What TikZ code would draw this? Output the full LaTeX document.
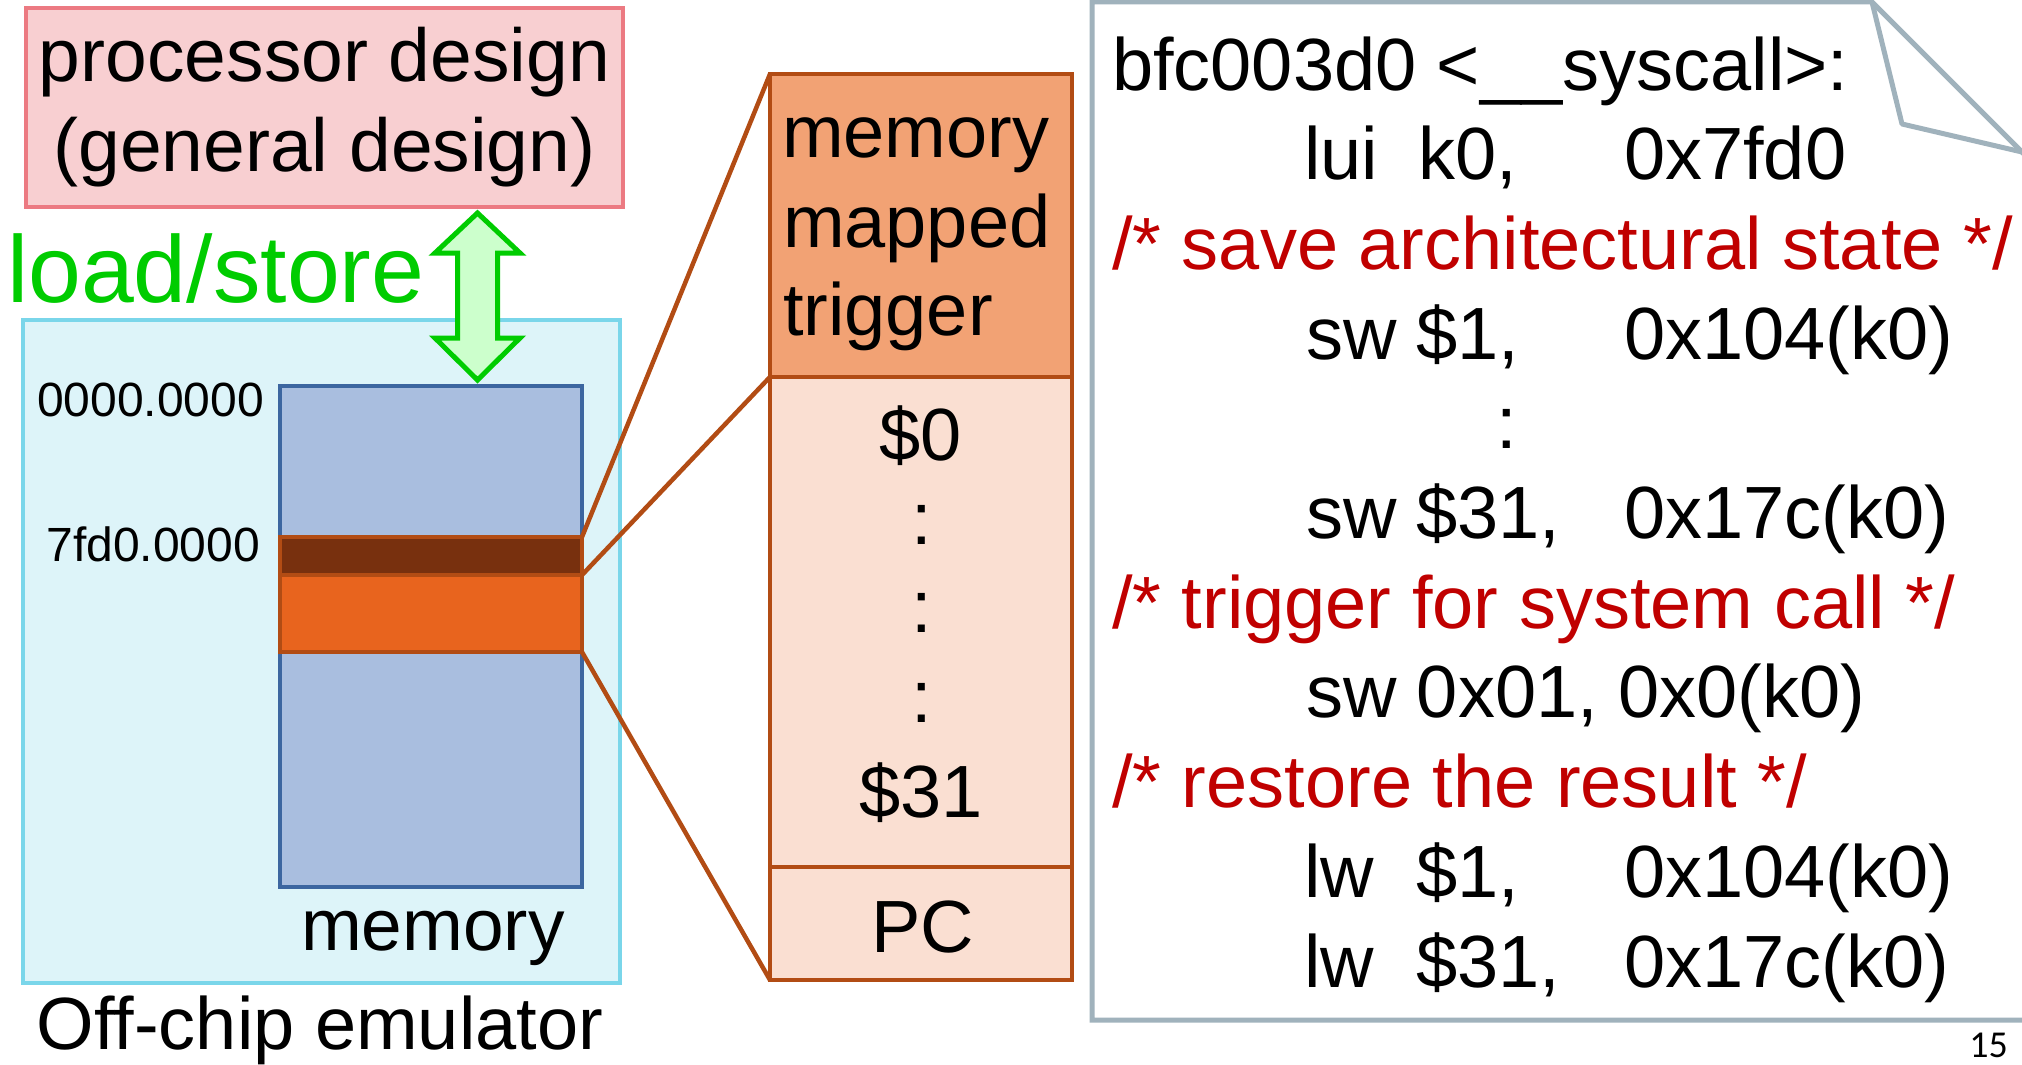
\documentclass[tikz,border=0pt]{standalone}
\usepackage{fontspec}
\setmainfont{Liberation Sans}
\newfontfamily\pagenofont{Carlito}
\usetikzlibrary{calc}

\definecolor{procfill}{RGB}{248,207,209}
\definecolor{procdraw}{RGB}{236,122,130}
\definecolor{emufill}{RGB}{221,244,249}
\definecolor{emudraw}{RGB}{122,214,234}
\definecolor{memfill}{RGB}{169,190,223}
\definecolor{memdraw}{RGB}{60,102,160}
\definecolor{trigband}{RGB}{120,48,14}
\definecolor{regband}{RGB}{232,100,30}
\definecolor{rust}{RGB}{178,76,20}
\definecolor{trigfill}{RGB}{242,162,116}
\definecolor{regfill}{RGB}{250,223,210}
\definecolor{notedraw}{RGB}{160,178,188}
\definecolor{lsgreen}{RGB}{0,204,0}
\definecolor{lsfill}{RGB}{204,255,204}
\definecolor{cmt}{RGB}{192,0,0}

\begin{document}
\begin{tikzpicture}[x=1pt,y=-1pt,
  blk/.style={rectangle, inner sep=0pt, outer sep=0pt, anchor=north west},
  big/.style={font=\fontsize{74}{89}\selectfont, inner sep=0pt, outer sep=0pt},
  small/.style={font=\fontsize{48}{58}\selectfont, inner sep=0pt, outer sep=0pt},
  code/.style={big, anchor=base west},
  comment/.style={code, text=cmt},
  reg/.style={big, anchor=base},
  link/.style={draw=rust, line width=4.5pt},
]
\useasboundingbox (0,0) rectangle (2022,1065);

% ---------- processor design ----------
\node[blk, fill=procfill, draw=procdraw, line width=4.5pt,
      minimum width=597pt, minimum height=199pt,
      font=\fontsize{75}{90}\selectfont, align=center]
  (proc) at (26,8) {processor design\\(general design)};

% ---------- off-chip emulator ----------
\node[blk, fill=emufill, draw=emudraw, line width=4.5pt,
      minimum width=597pt, minimum height=663pt] (emu) at (23,320) {};
\node[blk, fill=memfill, draw=memdraw, line width=4.5pt,
      minimum width=302pt, minimum height=501pt] (mem) at (280,386) {};
\node[blk, fill=trigband, draw=rust, line width=4pt,
      minimum width=302pt, minimum height=38pt] (tband) at (280,537) {};
\node[blk, fill=regband, draw=rust, line width=4pt,
      minimum width=302pt, minimum height=77pt] (rband) at (280,575) {};

\node[small, anchor=base east] (addr0) at (264,416) {0000.0000};
\node[small, anchor=base east] (addr1) at (260,561) {7fd0.0000};
\node[font=\fontsize{73}{88}\selectfont, inner sep=0pt, anchor=base] (memlbl) at (433,950) {memory};
\node[font=\fontsize{74}{89}\selectfont, inner sep=0pt, anchor=base] (emulbl) at (320,1049) {Off-chip emulator};

% ---------- load/store ----------
\node[font=\fontsize{95}{114}\selectfont, text=lsgreen, inner sep=0pt, anchor=base west]
  (lslbl) at (7,302) {load/store};
\coordinate (lsTop) at (477.5,213);
\coordinate (lsBot) at (477.5,380);
\draw[draw=lsgreen, fill=lsfill, line width=5pt, line join=miter]
  (lsTop) -- ++(42.5,40) -- ++(-22.5,0) -- ($(lsBot)+(20,-42)$)
  -- ++(22.5,0) -- (lsBot) -- ++(-42.5,-42) -- ++(22.5,0)
  -- ($(lsTop)+(-20,40)$) -- ++(-22.5,0) -- cycle;

% ---------- register column ----------
\node[blk, fill=trigfill, draw=rust, line width=4.5pt,
      minimum width=302pt, minimum height=303pt] (tsec) at (770,74) {};
\node[blk, fill=regfill, draw=rust, line width=4.5pt,
      minimum width=302pt, minimum height=490pt] (rsec) at (770,377) {};
\node[blk, fill=regfill, draw=rust, line width=4.5pt,
      minimum width=302pt, minimum height=113pt] (pcsec) at (770,867) {};

\node[code] (t1) at (782,157) {memory};
\node[code] (t2) at (783,247) {mapped};
\node[code] (t3) at (783,335) {trigger};
\node[reg] (r0) at (921,460) {\$0};
\node[reg] (d1) at (922,544) {:};
\node[reg] (d2) at (922,632) {:};
\node[reg] (d3) at (922,722) {:};
\node[reg] (r31) at (921,817) {\$31};
\node[reg] (pc) at (923,952) {PC};

% zoom lines from the memory bands to the column
\draw[link] (tband.north east) -- (tsec.north west);
\draw[link] (rband.north east) -- (rsec.north west);
\draw[link] (rband.south east) -- (pcsec.south west);

% ---------- code note ----------
\draw[notedraw, line width=5pt, fill=white, line join=miter]
  (1092,2) -- (1872,2) -- (2030,160) -- (2030,1020) -- (1092,1020) -- cycle;
\draw[notedraw, line width=5pt, line join=round]
  (1872,2) -- (1902,124) -- (2022,152);

\node[code] (c1) at (1112,90) {bfc003d0 <\_\_syscall>:};
\node[code] (c2a) at (1304,179.7) {lui};
\node[code] (c2b) at (1418,179.7) {k0,};
\node[code] (c2c) at (1624,179.7) {0x7fd0};
\node[comment] (c3) at (1112,269.4) {/* save architectural state */};
\node[code] (c4a) at (1306,359.1) {sw};
\node[code] (c4b) at (1416,359.1) {\$1,};
\node[code] (c4c) at (1624,359.1) {0x104(k0)};
\node[big, anchor=base] (c5) at (1507,448.8) {:};
\node[code] (c6a) at (1306,538.5) {sw};
\node[code] (c6b) at (1416,538.5) {\$31,};
\node[code] (c6c) at (1624,538.5) {0x17c(k0)};
\node[comment] (c7) at (1112,628.2) {/* trigger for system call */};
\node[code] (c8) at (1306,717.9) {sw 0x01, 0x0(k0)};
\node[comment] (c9) at (1112,807.6) {/* restore the result */};
\node[code] (c10a) at (1304,897.3) {lw};
\node[code] (c10b) at (1416,897.3) {\$1,};
\node[code] (c10c) at (1624,897.3) {0x104(k0)};
\node[code] (c11a) at (1304,987) {lw};
\node[code] (c11b) at (1416,987) {\$31,};
\node[code] (c11c) at (1624,987) {0x17c(k0)};

% slide number
\node[font=\pagenofont\fontsize{38}{46}\selectfont, inner sep=0pt, anchor=base east]
  (pageno) at (2008,1057) {15};
\end{tikzpicture}
\end{document}
